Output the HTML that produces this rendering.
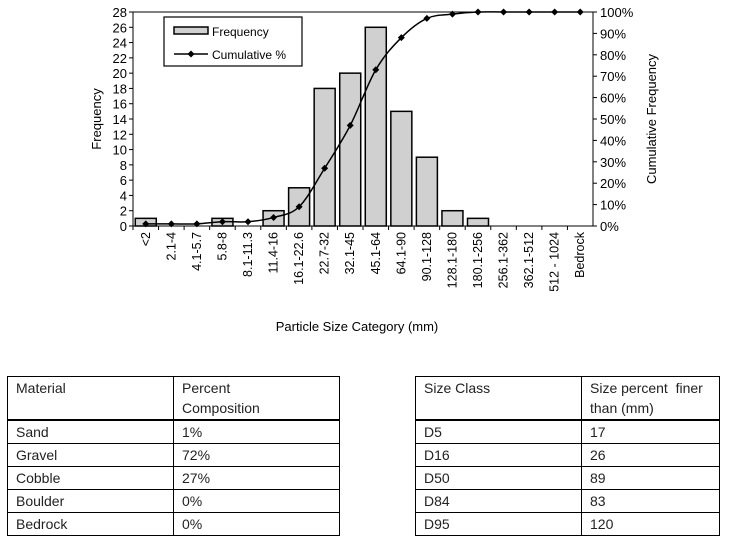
<!DOCTYPE html>
<html><head><meta charset="utf-8"><style>
body{margin:0;width:753px;height:548px;background:#fff;overflow:hidden;font-family:"Liberation Sans",sans-serif}
svg{position:absolute;left:0;top:0}
table{position:absolute;border-collapse:collapse;font-family:"Liberation Sans",sans-serif;font-size:14px;color:#222}
td{border:1px solid #000;padding:1px 8px;vertical-align:top;height:22px;line-height:20px;box-sizing:border-box}
tr.h td{height:42px;border-bottom:2px solid #000}
</style></head><body>
<svg id="chart" width="753" height="360"></svg>
<table style="left:7px;top:376px;width:333px">
<tr class="h"><td style="width:166px">Material</td><td>Percent<br>Composition</td></tr>
<tr><td>Sand</td><td>1%</td></tr><tr><td>Gravel</td><td>72%</td></tr><tr><td>Cobble</td><td>27%</td></tr><tr><td>Boulder</td><td>0%</td></tr><tr><td>Bedrock</td><td>0%</td></tr>
</table>
<table style="left:415px;top:376px;width:305px">
<tr class="h"><td style="width:166px">Size Class</td><td>Size percent&nbsp; finer than (mm)</td></tr>
<tr><td>D5</td><td>17</td></tr><tr><td>D16</td><td>26</td></tr><tr><td>D50</td><td>89</td></tr><tr><td>D84</td><td>83</td></tr><tr><td>D95</td><td>120</td></tr>
</table>
<script>
const categories=["<2","2.1-4","4.1-5.7","5.8-8","8.1-11.3","11.4-16","16.1-22.6","22.7-32","32.1-45","45.1-64","64.1-90","90.1-128","128.1-180","180.1-256","256.1-362","362.1-512","512 - 1024","Bedrock"];
const frequency=[1,0,0,1,0,2,5,18,20,26,15,9,2,1,0,0,0,0];
const cumulative=[1,1,1,2,2,4,9,27,47,73,88,97,99,100,100,100,100,100];
const leftTicks=[0,2,4,6,8,10,12,14,16,18,20,22,24,26,28];
const rightTicks=[0,10,20,30,40,50,60,70,80,90,100];
const NS="http://www.w3.org/2000/svg",svg=document.getElementById('chart');
const L=133,R=593,T=12,B=226,bw=(R-L)/categories.length;
const yL=v=>B-v/28*(B-T),yR=v=>B-v/100*(B-T),xC=i=>L+bw*(i+0.5);
function mk(t,a,txt){const e=document.createElementNS(NS,t);for(const k in a)e.setAttribute(k,a[k]);if(txt!=null)e.textContent=txt;svg.appendChild(e);return e;}
let e=mk('rect',{x:L,y:T,width:R-L,height:B-T,fill:'none',stroke:'#000','stroke-width':1});

leftTicks.forEach(v=>{mk('line',{x1:L-4,x2:L,y1:yL(v),y2:yL(v),stroke:'#000'});
e=mk('text',{x:L-6,y:yL(v)+5,'text-anchor':'end','font-size':13},v);
});
rightTicks.forEach(v=>{mk('line',{x1:R,x2:R+4,y1:yR(v),y2:yR(v),stroke:'#000'});
e=mk('text',{x:R+7,y:yR(v)+5,'font-size':13},v+'%');
});
categories.forEach((c,i)=>{const x=L+bw*i;mk('line',{x1:x,x2:x,y1:B,y2:B+4,stroke:'#000'});
e=mk('text',{x:0,y:0,'text-anchor':'end','font-size':12.5,transform:`translate(${xC(i)+4},${B+6}) rotate(-90)`},c);

if(frequency[i]>0){e=mk('rect',{x:xC(i)-10.5,y:yL(frequency[i]),width:21,height:B-yL(frequency[i]),fill:'#d0d0d0',stroke:'#000','stroke-width':1.5});
}});
const pts=cumulative.map((v,i)=>[xC(i),yR(v)]);
let d=`M${pts[0][0]},${pts[0][1]}`;
for(let i=0;i<pts.length-1;i++){const p0=pts[i-1]||pts[i],p1=pts[i],p2=pts[i+1],p3=pts[i+2]||p2;
d+=` C${p1[0]+(p2[0]-p0[0])/6},${p1[1]+(p2[1]-p0[1])/6} ${p2[0]-(p3[0]-p1[0])/6},${p2[1]-(p3[1]-p1[1])/6} ${p2[0]},${p2[1]}`;}
e=mk('path',{d:d,fill:'none',stroke:'#000','stroke-width':1.5});

pts.forEach(p=>{e=mk('path',{d:`M${p[0]},${p[1]-3.5}L${p[0]+3.5},${p[1]}L${p[0]},${p[1]+3.5}L${p[0]-3.5},${p[1]}Z`,fill:'#000'});
});
e=mk('rect',{x:164,y:17,width:138,height:49,fill:'#fff',stroke:'#000','stroke-width':1.2});

mk('rect',{x:174,y:27,width:34,height:7,fill:'#d0d0d0',stroke:'#000','stroke-width':1.5});
e=mk('text',{x:212,y:36,'font-size':12},'Frequency');
mk('line',{x1:174,x2:208,y1:54,y2:54,stroke:'#000','stroke-width':1.5});
mk('path',{d:'M191,50.5L194.5,54L191,57.5L187.5,54Z',fill:'#000'});
e=mk('text',{x:212,y:59,'font-size':12},'Cumulative %');
e=mk('text',{x:0,y:0,'text-anchor':'middle','font-size':13,transform:'translate(101,119) rotate(-90)'},'Frequency');

e=mk('text',{x:0,y:0,'text-anchor':'middle','font-size':13,transform:'translate(656,119) rotate(-90)'},'Cumulative Frequency');

e=mk('text',{x:357,y:331,'text-anchor':'middle','font-size':13},'Particle Size Category (mm)');

</script>
</body></html>
